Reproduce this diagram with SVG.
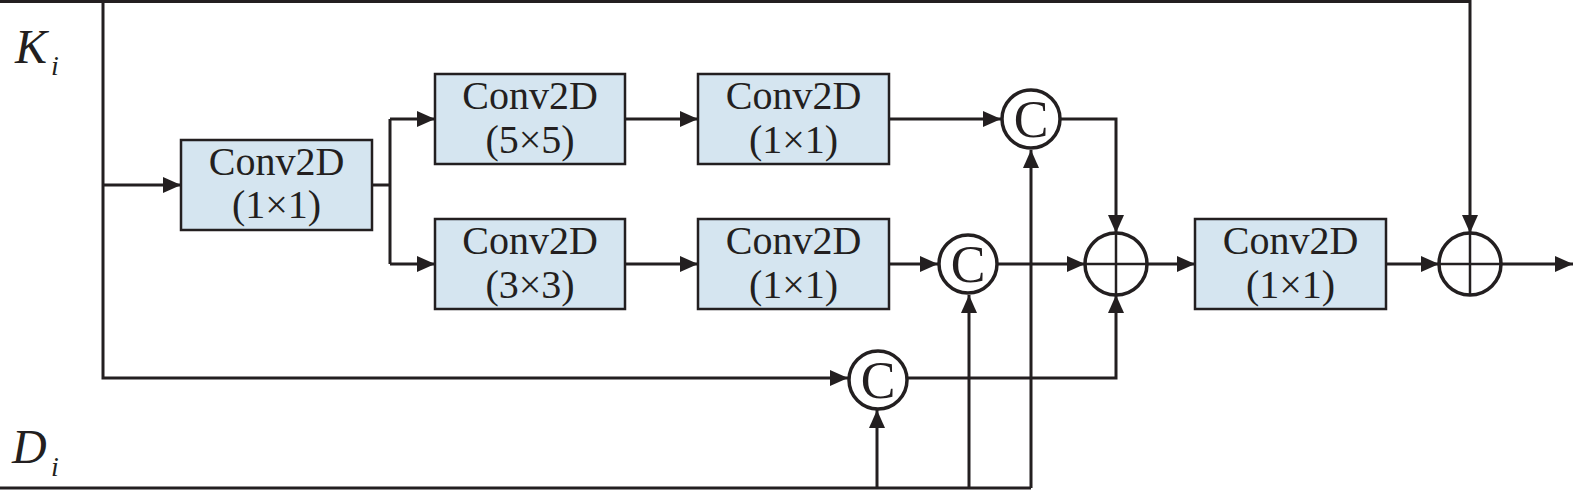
<svg xmlns="http://www.w3.org/2000/svg" width="1575" height="491" viewBox="0 0 1575 491">
<style>
.box{fill:#d5e5f0;stroke:#231f20;stroke-width:2.5}
.t{font-family:"Liberation Serif","Times New Roman",serif;font-size:40px;fill:#231f20;text-anchor:middle}
.c{fill:#fff;stroke:#231f20;stroke-width:3.5}
.ct{font-family:"Liberation Serif","Times New Roman",serif;font-size:52px;fill:#231f20;text-anchor:middle}
.ln{fill:none;stroke:#231f20;stroke-width:3}
.ar{marker-end:url(#ah)}
.pl{stroke:#231f20;stroke-width:2.5}
.lab{font-family:"Liberation Serif","Times New Roman",serif;font-style:italic;fill:#231f20}
</style>
<defs>
<marker id="ah" markerUnits="userSpaceOnUse" markerWidth="18" markerHeight="16" refX="18" refY="8" orient="auto">
<path d="M0,0 L18,8 L0,16 Z" fill="#231f20"/>
</marker>
</defs>
<rect width="1575" height="491" fill="#fff"/>
<g id="connectors">
<path class="ln ar" d="M0,1.5 H1470 V233"/>
<path class="ln" d="M103,0 V378 H830"/>
<path class="ln ar" d="M832,378 H848"/>
<path class="ln ar" d="M103,185 H181"/>
<path class="ln" d="M372,185 H390 M390,119 V264"/>
<path class="ln ar" d="M390,119 H435"/>
<path class="ln ar" d="M390,264 H435"/>
<path class="ln ar" d="M625,119 H698"/>
<path class="ln ar" d="M625,264 H698"/>
<path class="ln ar" d="M889,119 H1001"/>
<path class="ln ar" d="M889,264 H938"/>
<path class="ln ar" d="M1061,119 H1116 V233"/>
<path class="ln ar" d="M998,264 H1085"/>
<path class="ln ar" d="M908,378 H1116 V295"/>
<path class="ln ar" d="M1147,264 H1195"/>
<path class="ln ar" d="M1386,264 H1439"/>
<path class="ln ar" d="M1501,264 H1573"/>
<path class="ln" d="M0,488 H1031"/>
<path class="ln ar" d="M877,488 V410"/>
<path class="ln ar" d="M969,488 V295"/>
<path class="ln ar" d="M1031,488 V150"/>
</g>
<g id="label-K">
<text class="lab" x="15" y="63" font-size="48">K</text>
<text class="lab" x="51" y="75" font-size="28">i</text>
</g>
<g id="label-D">
<text class="lab" x="12" y="463" font-size="48">D</text>
<text class="lab" x="51" y="476" font-size="28">i</text>
</g>
<g id="conv-in">
<rect class="box" x="181" y="140" width="191" height="90"/>
<text class="t" x="276.5" y="175">Conv2D</text>
<text class="t" x="276.5" y="218">(1×1)</text>
</g>
<g id="conv-5x5">
<rect class="box" x="435" y="74" width="190" height="90"/>
<text class="t" x="530" y="109">Conv2D</text>
<text class="t" x="530" y="153">(5×5)</text>
</g>
<g id="conv-1x1-top">
<rect class="box" x="698" y="74" width="191" height="90"/>
<text class="t" x="793.5" y="109">Conv2D</text>
<text class="t" x="793.5" y="153">(1×1)</text>
</g>
<g id="conv-3x3">
<rect class="box" x="435" y="219" width="190" height="90"/>
<text class="t" x="530" y="254">Conv2D</text>
<text class="t" x="530" y="298">(3×3)</text>
</g>
<g id="conv-1x1-mid">
<rect class="box" x="698" y="219" width="191" height="90"/>
<text class="t" x="793.5" y="254">Conv2D</text>
<text class="t" x="793.5" y="298">(1×1)</text>
</g>
<g id="concat-top">
<circle class="c" cx="1031" cy="119" r="29"/>
<text class="ct" x="1031" y="137">C</text>
</g>
<g id="concat-mid">
<circle class="c" cx="968" cy="264" r="29"/>
<text class="ct" x="968" y="282">C</text>
</g>
<g id="concat-bot">
<circle class="c" cx="878" cy="380" r="29"/>
<text class="ct" x="878" y="398">C</text>
</g>
<g id="sum-1">
<circle class="c" cx="1116" cy="264" r="31" style="fill:none"/>
<path class="pl" d="M1085,264 H1147 M1116,233 V295"/>
</g>
<g id="conv-out">
<rect class="box" x="1195" y="219" width="191" height="90"/>
<text class="t" x="1290.5" y="254">Conv2D</text>
<text class="t" x="1290.5" y="298">(1×1)</text>
</g>
<g id="sum-2">
<circle class="c" cx="1470" cy="264" r="31" style="fill:none"/>
<path class="pl" d="M1439,264 H1501 M1470,233 V295"/>
</g>
</svg>
